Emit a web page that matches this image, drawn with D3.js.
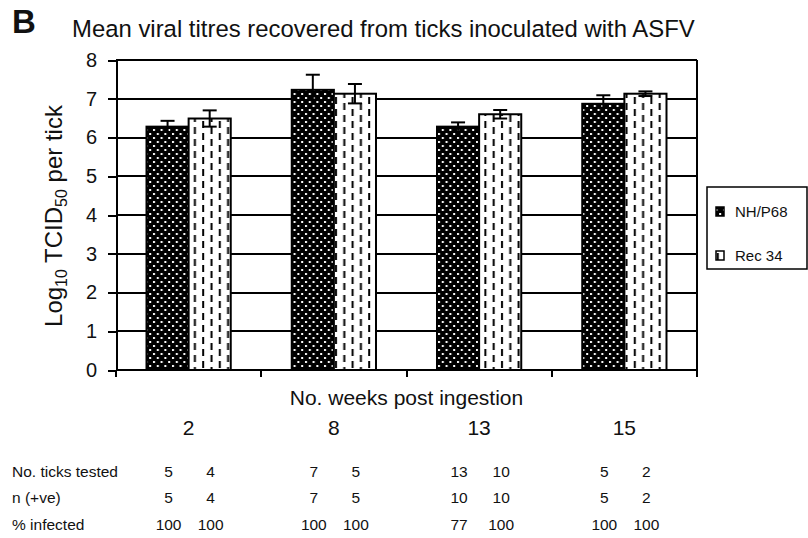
<html>
<head>
<script src="https://cdnjs.cloudflare.com/ajax/libs/d3/7.8.5/d3.min.js"></script>
<style>
  body { margin: 0; background: #fff; }
  svg text { font-family: "Liberation Sans", Arial, sans-serif; fill: #111; }
  .axis path, .axis line { stroke: #000; stroke-width: 2; shape-rendering: crispEdges; }
  .axis text { font-size: 20px; }
</style>
</head>
<body>
<script>
// data
var weeks = ["2", "8", "13", "15"];
var seriesNames = ["NH/P68", "Rec 34"];
var nhMean = [6.28, 7.23, 6.28, 6.87];
var nhErr = [0.15, 0.39, 0.11, 0.22];
var recMean = [6.49, 7.13, 6.60, 7.13];
var recErr = [0.21, 0.25, 0.11, 0.06];
var yTicks = [0, 1, 2, 3, 4, 5, 6, 7, 8];
var rowLabels = ["No. ticks tested", "n (+ve)", "% infected"];
var ticksTested = [[5, 4], [7, 5], [13, 10], [5, 2]];
var nPositive = [[5, 4], [7, 5], [10, 10], [5, 2]];
var pctInfected = [[100, 100], [100, 100], [77, 100], [100, 100]];

var w = 808, h = 538;
var pLeft = 116, pRight = 697, pTop = 60, pBottom = 370;

var svg = d3.select("body").append("svg")
    .attr("width", w).attr("height", h);

// patterns
var defs = svg.append("defs");
var dots = defs.append("pattern").attr("id", "dots")
    .attr("patternUnits", "userSpaceOnUse").attr("width", 7.6).attr("height", 8);
dots.append("rect").attr("width", 7.6).attr("height", 8).attr("fill", "#000");
dots.append("rect").attr("x", 1).attr("y", 1).attr("width", 2).attr("height", 2).attr("fill", "#fff");
dots.append("rect").attr("x", 4.8).attr("y", 5).attr("width", 2).attr("height", 2).attr("fill", "#fff");

var dash = defs.append("pattern").attr("id", "dash")
    .attr("patternUnits", "userSpaceOnUse").attr("width", 16.6).attr("height", 12);
dash.append("rect").attr("width", 16.6).attr("height", 12).attr("fill", "#fff");
dash.append("rect").attr("x", 3).attr("y", 1).attr("width", 2).attr("height", 7).attr("fill", "#000");
dash.append("rect").attr("x", 11.3).attr("y", 7).attr("width", 2).attr("height", 5).attr("fill", "#000");
dash.append("rect").attr("x", 11.3).attr("y", 0).attr("width", 2).attr("height", 2).attr("fill", "#000");

var x = d3.scaleBand().domain(weeks).range([pLeft, pRight])
    .paddingInner(0.42).paddingOuter(0.21);
var xs = d3.scaleBand().domain(seriesNames).range([0, x.bandwidth()]);
var y = d3.scaleLinear().domain([0, 8]).range([pBottom, pTop]);

// gridlines
svg.append("g").selectAll("line").data(yTicks.slice(1)).enter().append("line")
    .attr("x1", pLeft).attr("x2", pRight)
    .attr("y1", function(d) { return y(d); }).attr("y2", function(d) { return y(d); })
    .attr("stroke", "#000").attr("stroke-width", 2).attr("shape-rendering", "crispEdges");
// right border
svg.append("line").attr("x1", pRight).attr("x2", pRight).attr("y1", pTop).attr("y2", pBottom)
    .attr("stroke", "#000").attr("stroke-width", 2).attr("shape-rendering", "crispEdges");

// bars
var series = [
  { name: seriesNames[0], mean: nhMean, err: nhErr, fill: "url(#dots)" },
  { name: seriesNames[1], mean: recMean, err: recErr, fill: "url(#dash)" }
];
var barData = [];
series.forEach(function(s) {
  weeks.forEach(function(wk, i) {
    barData.push({ week: wk, name: s.name, v: s.mean[i], e: s.err[i], fill: s.fill });
  });
});

svg.append("g").selectAll("rect").data(barData).enter().append("rect")
    .attr("x", function(d) { return x(d.week) + xs(d.name); })
    .attr("y", function(d) { return y(d.v); })
    .attr("width", xs.bandwidth())
    .attr("height", function(d) { return y(0) - y(d.v); })
    .attr("fill", function(d) { return d.fill; })
    .attr("stroke", "#000").attr("stroke-width", 2);

// error bars
var eb = svg.append("g").attr("stroke", "#000").attr("stroke-width", 2);
var cap = 7;
barData.forEach(function(d) {
  var cx = x(d.week) + xs(d.name) + xs.bandwidth() / 2;
  eb.append("line").attr("x1", cx).attr("x2", cx).attr("y1", y(d.v + d.e)).attr("y2", y(d.v - d.e));
  eb.append("line").attr("x1", cx - cap).attr("x2", cx + cap).attr("y1", y(d.v + d.e)).attr("y2", y(d.v + d.e));
  if (d.name === seriesNames[1]) {
    eb.append("line").attr("x1", cx - cap).attr("x2", cx + cap).attr("y1", y(d.v - d.e)).attr("y2", y(d.v - d.e));
  }
});

// y axis
svg.append("g").attr("class", "axis")
    .attr("transform", "translate(" + pLeft + ",0)")
    .call(d3.axisLeft(y).tickValues(yTicks).tickSize(8).tickPadding(11).tickSizeOuter(0));

// x axis: baseline plus ticks at group boundaries
var half = (x.step() - x.bandwidth()) / 2;
var bounds = weeks.map(function(wk) { return x(wk) - half; });
bounds.push(pRight);
svg.append("line").attr("x1", pLeft).attr("x2", pRight).attr("y1", y(0)).attr("y2", y(0))
    .attr("stroke", "#000").attr("stroke-width", 2).attr("shape-rendering", "crispEdges");
svg.append("g").selectAll("line").data(bounds).enter().append("line")
    .attr("x1", function(d) { return d; }).attr("x2", function(d) { return d; })
    .attr("y1", y(0)).attr("y2", y(0) + 7)
    .attr("stroke", "#000").attr("stroke-width", 2).attr("shape-rendering", "crispEdges");

// axis titles
svg.append("text").attr("x", (pLeft + pRight) / 2).attr("y", 405)
    .attr("text-anchor", "middle").style("font-size", "21px").text("No. weeks post ingestion");

svg.append("g").selectAll("text").data(weeks).enter().append("text")
    .attr("x", function(d) { return x(d) + x.bandwidth() / 2; })
    .attr("y", 435).attr("text-anchor", "middle").style("font-size", "21px")
    .text(function(d) { return d; });

var yt = svg.append("text").attr("transform", "translate(62,216) rotate(-90)")
    .attr("text-anchor", "middle").style("font-size", "24px");
yt.append("tspan").text("Log");
yt.append("tspan").attr("dy", 5).style("font-size", "16px").text("10");
yt.append("tspan").attr("dy", -5).text(" TCID");
yt.append("tspan").attr("dy", 5).style("font-size", "16px").text("50");
yt.append("tspan").attr("dy", -5).text(" per tick");

// titles
svg.append("text").attr("x", 12).attr("y", 33).style("font-size", "33px")
    .style("font-weight", "bold").text("B");
svg.append("text").attr("x", 72).attr("y", 37).style("font-size", "23.9px")
    .text("Mean viral titres recovered from ticks inoculated with ASFV");

// legend
var lg = svg.append("g");
lg.append("rect").attr("x", 707).attr("y", 187).attr("width", 100).attr("height", 82)
    .attr("fill", "#fff").attr("stroke", "#000").attr("stroke-width", 1.5);
series.forEach(function(s, i) {
  var ly = 207 + i * 44;
  lg.append("rect").attr("x", 716).attr("y", ly).attr("width", 8).attr("height", 9)
    .attr("fill", s.fill).attr("stroke", "#000").attr("stroke-width", 1.5);
  lg.append("text").attr("x", 735).attr("y", ly + 10).style("font-size", "15px").text(s.name);
});

// table under the chart
var rows = [ticksTested, nPositive, pctInfected];
var rowY = [477, 503, 530];
rowLabels.forEach(function(lab, r) {
  svg.append("text").attr("x", 12).attr("y", rowY[r]).style("font-size", "15.5px").text(lab);
  weeks.forEach(function(wk, i) {
    rows[r][i].forEach(function(v, j) {
      svg.append("text")
        .attr("x", x(wk) + xs(seriesNames[j]) + xs.bandwidth() / 2 + 1)
        .attr("y", rowY[r]).attr("text-anchor", "middle").style("font-size", "15.5px")
        .text(v);
    });
  });
});
</script>
</body>
</html>
